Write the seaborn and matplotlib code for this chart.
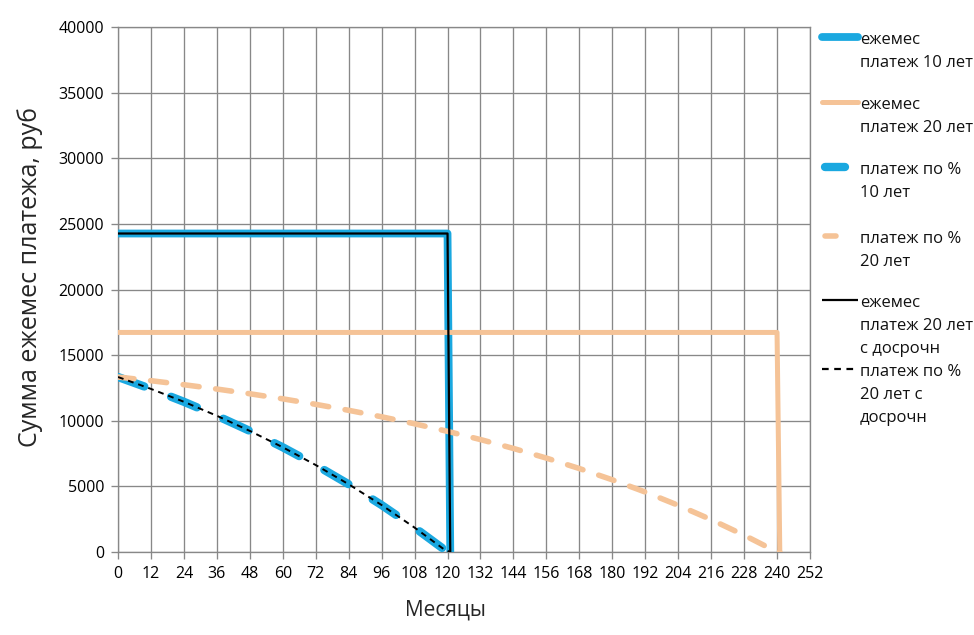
import matplotlib
matplotlib.use("Agg")
import matplotlib.pyplot as plt
from matplotlib.lines import Line2D
import seaborn as sns
import pandas as pd

sns.set_theme(style="white")
plt.rcParams['font.family'] = ['Open Sans', 'DejaVu Sans']

# ---- data ----
pay_months_10 = [0, 120, 121]
pay_10 = [24266, 24266, 0]
pay_months_20 = [0, 240, 241]
pay_20 = [16729, 16729, 0]

int_months_10 = [0, 12, 24, 36, 48, 60, 72, 84, 96, 108, 119, 121]
int_10 = [13333, 12427, 11444, 10379, 9226, 7979, 6627, 5161, 3577, 1859, 161, 0]

int_months_20 = [0, 12, 24, 36, 48, 60, 72, 84, 96, 108, 120, 132, 144, 156,
                 168, 180, 192, 204, 216, 228, 239, 241]
int_20 = [13333, 13052, 12746, 12416, 12057, 11670, 11250, 10795, 10302, 9768,
          9193, 8567, 7890, 7155, 6360, 5501, 4569, 3558, 2466, 1281, 111, 0]

labels = ["ежемес\nплатеж 10 лет", "ежемес\nплатеж 20 лет", "платеж по %\n10 лет",
          "платеж по %\n20 лет", "ежемес\nплатеж 20 лет\nс досрочн",
          "платеж по %\n20 лет с\nдосрочн"]

x_ticks = list(range(0, 253, 12))
y_ticks = list(range(0, 40001, 5000))

BLUE = "#1AA8E0"
PEACH = "#F5C397"
GRID = "#888888"

fig = plt.figure(figsize=(9.74, 6.35), dpi=100)
ax = fig.add_axes([118/974, 1-552/635, (810-118)/974, (552-27)/635])

df_p10 = pd.DataFrame({"m": pay_months_10, "v": pay_10})
df_p20 = pd.DataFrame({"m": pay_months_20, "v": pay_20})
df_i10 = pd.DataFrame({"m": int_months_10, "v": int_10})
df_i20 = pd.DataFrame({"m": int_months_20, "v": int_20})

kw = dict(x="m", y="v", ax=ax, sort=False, estimator=None)
sns.lineplot(data=df_p10, color=BLUE, lw=5.6, zorder=3, **kw)
sns.lineplot(data=df_p20, color=PEACH, lw=3.6, zorder=3, **kw)
sns.lineplot(data=df_i10, color=BLUE, lw=6.0, zorder=3, **kw)
sns.lineplot(data=df_i20, color=PEACH, lw=4.0, zorder=3, **kw)
sns.lineplot(data=df_p10, color="black", lw=1.6, zorder=4, **kw)
sns.lineplot(data=df_i10, color="black", lw=1.4, zorder=4, **kw)

lines = ax.get_lines()
lines[0].set_solid_capstyle("round"); lines[0].set_solid_joinstyle("round")
lines[1].set_solid_capstyle("round")
lines[2].set_dashes([3.35, 3.45]); lines[2].set_dash_capstyle("round")
lines[3].set_dashes([2.9, 3.0]); lines[3].set_dash_capstyle("round")
lines[5].set_dashes([3.0, 2.5])

ax.set_xlim(0, 252)
ax.set_ylim(0, 40000)
ax.set_xticks(x_ticks)
ax.set_yticks(y_ticks)
ax.set_xticklabels([str(t) for t in x_ticks], fontsize=11.5)
ax.set_yticklabels([str(t) for t in y_ticks], fontsize=11.5)
ax.grid(True, color=GRID, lw=0.95)
ax.set_axisbelow(True)
for s in ax.spines.values():
    s.set_color(GRID); s.set_linewidth(0.95)
ax.tick_params(axis="both", length=5, width=0.95, color=GRID, direction="out",
               bottom=True, left=True, pad=5, labelcolor="black")
ax.set_xlabel("Месяцы", fontsize=15)
ax.set_ylabel("Сумма ежемес платежа, руб", fontsize=18)
ax.xaxis.set_label_coords((445-118)/692, (552-610)/525)
ax.yaxis.set_label_coords((30-118)/692, (552-277)/525)
ax.xaxis.label.set_va("center")
ax.yaxis.label.set_va("center")

# manual legend (Excel-like, handle aligned with first text line)
H, W = 635, 974
entry_y = [37, 102, 167, 236, 300, 369]
styles = [
    dict(color=BLUE, lw=5.6, ls="-", x0=822, x1=858, cap="round"),
    dict(color=PEACH, lw=3.6, ls="-", x0=822, x1=858, cap="round"),
    dict(color=BLUE, lw=6.0, ls="-", x0=825, x1=845, cap="round"),
    dict(color=PEACH, lw=4.0, ls="-", x0=825, x1=836, cap="round"),
    dict(color="black", lw=1.6, ls="-", x0=822, x1=858, cap="butt"),
    dict(color="black", lw=1.6, ls=(0, (3.0, 2.5)), x0=822, x1=858, cap="butt"),
]
for y, st, lab in zip(entry_y, styles, labels):
    ln = Line2D([st["x0"]/W, st["x1"]/W], [1-y/H, 1-y/H], transform=fig.transFigure,
                color=st["color"], lw=st["lw"], ls=st["ls"],
                solid_capstyle=st["cap"], dash_capstyle="butt")
    fig.add_artist(ln)
    fig.text(860/W, 1-(y-5)/H, lab, fontsize=12, va="top", ha="left",
             linespacing=1.57, color="#111111")

fig.savefig("out.png", dpi=100, facecolor="white")
